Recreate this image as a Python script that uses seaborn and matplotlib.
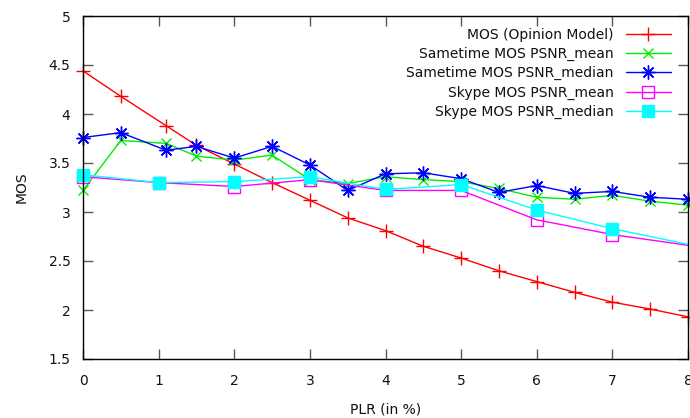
import matplotlib
matplotlib.use("Agg")
import matplotlib.pyplot as plt
import seaborn as sns
import pandas as pd

# Packet loss rate (%) sampled by the opinion model and Sametime runs
plr_fine = [0, 0.5, 1.1, 1.5, 2, 2.5, 3, 3.5, 4, 4.5, 5, 5.5, 6, 6.5, 7, 7.5, 8]
# Packet loss rate (%) sampled by the Skype runs
plr_skype = [0, 1, 2, 3, 4, 5, 6, 7, 8]

mos_model = [4.44, 4.18, 3.88, 3.68, 3.49, 3.30, 3.12, 2.94, 2.81, 2.65,
             2.53, 2.40, 2.29, 2.18, 2.08, 2.01, 1.93]
sametime_mean = [3.22, 3.73, 3.70, 3.57, 3.53, 3.58, 3.33, 3.29, 3.36, 3.33,
                 3.31, 3.24, 3.15, 3.13, 3.17, 3.11, 3.07]
sametime_median = [3.76, 3.81, 3.63, 3.67, 3.55, 3.67, 3.48, 3.22, 3.39, 3.40,
                   3.34, 3.20, 3.27, 3.19, 3.21, 3.15, 3.13]
skype_mean = [3.36, 3.30, 3.26, 3.33, 3.22, 3.22, 2.92, 2.77, 2.66]
skype_median = [3.38, 3.30, 3.31, 3.36, 3.23, 3.28, 3.02, 2.83, 2.67]

labels = ["MOS (Opinion Model)", "Sametime MOS PSNR_mean",
          "Sametime MOS PSNR_median", "Skype MOS PSNR_mean",
          "Skype MOS PSNR_median"]

sns.set_theme(style="white")
plt.rcParams["font.family"] = ["DejaVu Sans"]

fig = plt.figure(figsize=(6.9, 4.18), dpi=100)
ax = fig.add_axes([83 / 690, 1 - 359 / 418, 605 / 690, 343 / 418])

series = [
    (plr_fine, mos_model, labels[0], "#ff0000", "+", 10, "none", None),
    (plr_fine, sametime_mean, labels[1], "#00ee00", "x", 7.5, "none", None),
    (plr_fine, sametime_median, labels[2], "#0000ff", (8, 2, 0), 10, "none", None),
    (plr_skype, skype_mean, labels[3], "#ff00ff", "s", 8, "none", list(range(8))),
    (plr_skype, skype_median, labels[4], "#00ffff", "s", 9, "#00ffff", list(range(8))),
]

for xs, ys, lab, col, mk, ms, mfc, every in series:
    df = pd.DataFrame({"PLR": xs, "MOS": ys})
    kw = dict(markevery=every) if every is not None else {}
    sns.lineplot(data=df, x="PLR", y="MOS", ax=ax, color=col, label=lab,
                 marker=mk, markersize=ms, markerfacecolor=mfc,
                 markeredgecolor=col, markeredgewidth=1.0, linewidth=1.0,
                 clip_on=False, **kw)

ax.set_xlim(0, 8)
ax.set_ylim(1.5, 5)
ax.set_xticks(range(0, 9))
ax.set_yticks([1.5, 2, 2.5, 3, 3.5, 4, 4.5, 5])
ax.set_yticklabels(["1.5", "2", "2.5", "3", "3.5", "4", "4.5", "5"])
ax.tick_params(direction="in", length=7, width=1, color="0.35",
               labelsize=10, labelcolor="#111111",
               top=True, right=True, bottom=True, left=True, pad=9)
ax.tick_params(axis="x", pad=11)
for sp in ax.spines.values():
    sp.set_visible(True)
    sp.set_color("black")
    sp.set_linewidth(1.0)

ax.set_xlabel("PLR (in %)", fontsize=10, color="#111111", labelpad=10)
ax.set_ylabel("MOS", fontsize=10, color="#111111", labelpad=14)

leg = ax.legend(loc="upper right", bbox_to_anchor=(0.985, 0.99), frameon=False,
                markerfirst=False, fontsize=10, handlelength=3.2,
                handletextpad=0.9, labelspacing=0.37, borderaxespad=0.2)
for t in leg.get_texts():
    t.set_ha("right")
    t.set_color("#111111")
leg._legend_box.align = "right"

fig.savefig("out.png", dpi=100)
